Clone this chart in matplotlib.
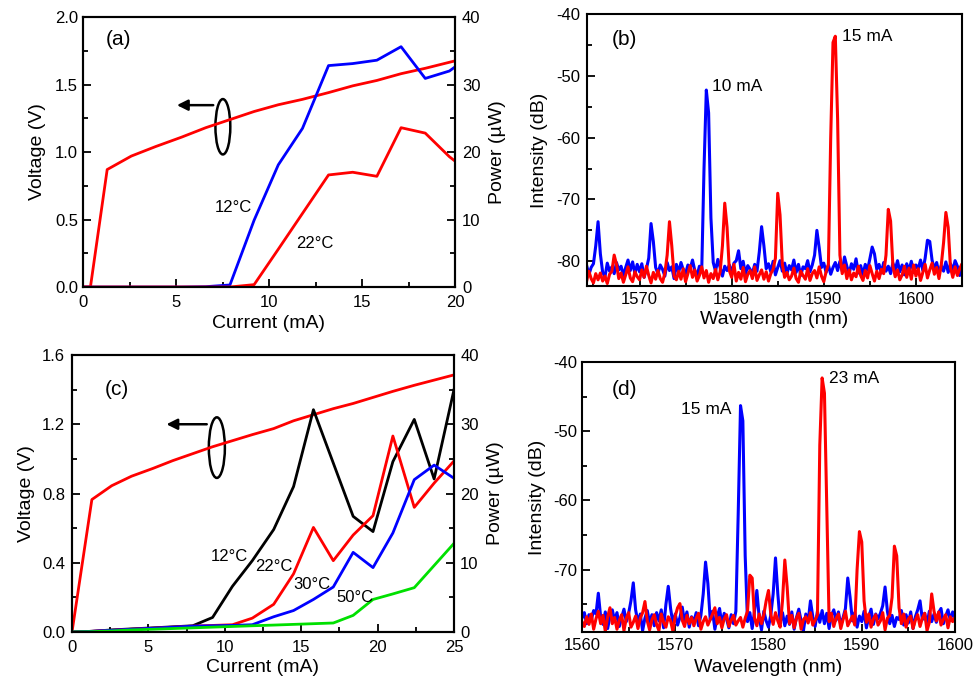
import numpy as np
import matplotlib
matplotlib.use("Agg")
import matplotlib.pyplot as plt
from matplotlib.patches import Ellipse
from matplotlib.ticker import MultipleLocator, FormatStrFormatter

plt.rcParams["font.family"] = ["Liberation Sans", "DejaVu Sans"]
plt.rcParams["axes.unicode_minus"] = False

# ---- panel (a): L-I-V, 2 temperatures
a_v_current = [0, 0.4, 1.3, 2.6, 3.9, 5.3, 6.6, 7.9, 9.2, 10.5, 11.8, 13.2, 14.5, 15.8, 17.1, 18.4, 20.0]
a_voltage = [0, 0, 0.87, 0.97, 1.04, 1.11, 1.18, 1.24, 1.30, 1.35, 1.39, 1.44, 1.49, 1.53, 1.58, 1.62, 1.675]
a_current = [0, 1.3, 2.6, 3.9, 5.3, 6.6, 7.9, 9.2, 10.5, 11.8, 13.2, 14.5, 15.8, 17.1, 18.4, 19.7, 21.0]
a_p_12C = [0, 0, 0, 0, 0, 0.05, 0.3, 9.9, 18.1, 23.5, 32.8, 33.1, 33.6, 35.6, 30.9, 32.0, 34.6]
a_p_22C = [0, 0, 0, 0, 0, 0, 0, 0.35, 5.6, 10.9, 16.6, 17.0, 16.4, 23.6, 22.8, 19.3, 16.5]

# ---- panel (c): L-I-V, 4 temperatures
c_current = [0, 1.3, 2.6, 3.9, 5.3, 6.6, 7.9, 9.2, 10.5, 11.8, 13.2, 14.5, 15.8, 17.1, 18.4, 19.7, 21.0, 22.4, 23.7, 25.0]
c_voltage = [0, 0.765, 0.845, 0.90, 0.945, 0.99, 1.03, 1.07, 1.105, 1.14, 1.175, 1.22, 1.255, 1.29, 1.32, 1.355, 1.39, 1.425, 1.455, 1.485]
c_p_12C = [0, 0.1, 0.3, 0.45, 0.6, 0.75, 0.9, 2.1, 6.6, 10.3, 14.8, 21.0, 32.1, 24.4, 16.7, 14.5, 24.6, 30.7, 22.1, 35.0]
c_p_22C = [0, 0.1, 0.25, 0.4, 0.55, 0.7, 0.85, 0.95, 1.05, 2.0, 4.0, 8.4, 15.1, 10.3, 14.0, 16.8, 28.3, 18.0, 21.5, 24.7]
c_p_30C = [0, 0.1, 0.25, 0.4, 0.55, 0.7, 0.85, 0.9, 0.95, 1.05, 2.2, 3.1, 4.7, 6.5, 11.5, 9.3, 14.3, 22.0, 24.1, 22.2]
c_p_50C = [0, 0.05, 0.15, 0.3, 0.4, 0.5, 0.6, 0.7, 0.8, 0.9, 1.0, 1.1, 1.2, 1.3, 2.4, 4.7, 5.5, 6.4, 9.6, 12.8]

# ---- panel (b): spectra, 1564.0 nm onward in 0.25 nm steps (one row = 2 nm)
b_start, b_step = 1564.0, 0.25
b_10mA = [
    -81.5, -80.6, -82.2, -81.0, -80.4, -77.5, -73.6, -78.8,
    -81.8, -82.5, -80.3, -81.6, -80.9, -82.0, -80.2, -81.4,
    -80.8, -82.3, -81.0, -79.8, -81.5, -80.1, -82.0, -80.5,
    -81.7, -80.4, -82.6, -81.2, -79.5, -73.9, -76.8, -81.0,
    -82.0, -80.6, -81.3, -82.4, -80.2, -81.5, -80.9, -82.8,
    -80.5, -81.8, -80.2, -81.4, -82.0, -80.6, -81.2, -79.8,
    -81.5, -82.3, -80.8, -81.6, -65.0, -52.3, -56.0, -73.0,
    -80.2, -81.6, -79.7, -81.0, -82.4, -80.8, -81.5, -80.6,
    -81.9, -80.3, -79.9, -78.3, -81.2, -80.0, -82.1, -80.7,
    -81.3, -82.0, -80.5, -81.6, -78.5, -74.4, -77.5, -81.2,
    -80.4, -81.7, -80.0, -82.2, -81.0, -79.9, -81.6, -80.3,
    -82.0, -80.7, -81.4, -79.8, -81.8, -80.5, -82.3, -80.9,
    -81.2, -79.9, -81.7, -80.6, -79.0, -75.0, -77.8, -81.0,
    -80.3, -81.8, -80.6, -82.1, -81.0, -80.2, -81.5, -80.0,
    -81.6, -79.3, -80.8, -82.0, -80.4, -81.3, -79.6, -81.9,
    -80.7, -82.2, -80.5, -81.4, -79.6, -77.7, -78.8, -81.3,
    -80.5, -81.9, -80.2, -81.6, -80.8, -82.0, -80.3, -81.4,
    -79.9, -81.7, -80.6, -82.2, -80.4, -81.5, -80.0, -81.8,
    -80.6, -81.2, -79.8, -81.5, -79.5, -76.6, -76.8, -79.8,
    -81.3, -80.2, -82.0, -80.7, -81.6, -80.1, -81.8, -80.4,
    -81.5, -79.9, -80.8, -82.3, -81.0, -80.5, -81.9, -80.6,
]
b_15mA = [
    -82.5, -83.3, -81.6, -82.8, -83.5, -82.0, -83.0, -81.9,
    -83.2, -82.4, -83.6, -82.1, -81.6, -79.0, -80.5, -82.8,
    -81.9, -83.4, -82.2, -80.9, -82.7, -83.3, -81.7, -82.5,
    -83.0, -81.4, -82.6, -80.8, -82.3, -83.5, -81.8, -82.9,
    -81.5, -82.8, -83.4, -81.9, -79.0, -73.6, -77.5, -82.4,
    -83.0, -81.6, -82.9, -81.2, -83.3, -82.0, -80.7, -82.6,
    -81.4, -83.2, -82.3, -80.9, -82.7, -81.5, -83.4, -82.0,
    -82.8, -81.3, -83.0, -81.7, -77.5, -70.6, -74.5, -81.5,
    -82.6, -80.5, -83.2, -81.8, -82.9, -81.0, -83.3, -82.1,
    -81.5, -82.8, -80.9, -83.1, -82.2, -81.4, -82.9, -81.7,
    -83.2, -82.0, -81.3, -79.5, -69.0, -72.5, -80.5, -82.6,
    -81.8, -83.0, -82.4, -81.1, -82.8, -83.4, -81.6, -82.3,
    -82.9, -81.2, -83.1, -82.0, -81.5, -82.7, -80.9, -82.4,
    -83.3, -81.7, -80.5, -60.0, -44.6, -43.6, -57.0, -79.0,
    -82.0, -80.6, -82.8, -81.4, -83.0, -81.9, -82.5, -80.8,
    -82.3, -83.1, -81.5, -82.7, -80.7, -82.0, -83.2, -81.6,
    -82.8, -81.3, -82.0, -79.0, -71.6, -73.5, -80.8, -82.5,
    -81.4, -83.0, -82.2, -80.8, -82.6, -81.1, -82.9, -80.6,
    -82.4, -81.2, -83.1, -81.8, -80.5, -82.7, -81.4, -80.3,
    -82.1, -81.0, -82.8, -80.6, -77.0, -72.1, -74.5, -81.0,
    -82.6, -80.9, -82.3, -81.2, -80.4, -82.0, -81.5, -80.8,
]

# ---- panel (d): spectra, 1560.0 nm onward in 0.25 nm steps
d_start, d_step = 1560.0, 0.25
d_15mA = [
    -77.0, -76.2, -77.8, -76.5, -77.2, -75.9, -76.4, -73.4,
    -76.8, -77.9, -76.1, -78.5, -76.7, -75.8, -77.4, -76.2,
    -78.2, -76.9, -75.7, -77.5, -76.3, -74.5, -71.9, -75.8,
    -77.6, -76.4, -78.8, -77.0, -75.9, -77.7, -76.5, -78.1,
    -76.2, -77.4, -75.8, -78.4, -75.0, -72.4, -75.6, -77.8,
    -76.4, -78.0, -76.9, -75.4, -77.6, -76.1, -78.3, -76.8,
    -77.5, -76.2, -78.1, -76.6, -73.5, -68.9, -72.0, -77.2,
    -76.0, -78.6, -76.8, -75.6, -77.9, -76.3, -77.1, -78.4,
    -76.5, -77.8, -76.0, -62.0, -46.3, -48.5, -68.0, -77.5,
    -76.2, -78.5, -76.0, -73.0, -76.9, -78.7, -76.0, -77.4,
    -78.3, -76.5, -73.5, -68.3, -73.5, -77.6, -76.2, -78.1,
    -76.7, -77.9, -76.1, -78.6, -76.9, -75.7, -77.4, -78.8,
    -76.4, -77.5, -74.5, -76.8, -78.2, -76.0, -77.6, -75.9,
    -77.8, -76.3, -78.5, -76.6, -75.8, -77.3, -76.1, -78.0,
    -76.9, -75.6, -71.2, -74.0, -77.4, -76.2, -78.3, -76.7,
    -77.5, -76.0, -78.4, -76.8, -75.7, -77.9, -76.4, -77.1,
    -76.3, -75.2, -72.5, -76.0, -77.8, -76.6, -78.2, -76.9,
    -77.2, -75.9, -78.0, -76.5, -77.7, -76.1, -78.5, -76.8,
    -75.8, -74.5, -77.2, -76.3, -77.9, -76.0, -77.5, -76.4,
    -77.6, -76.2, -75.6, -77.8, -76.7, -75.8, -77.3, -76.1,
    -77.0,
]
d_23mA = [
    -77.5, -78.2, -76.8, -77.9, -76.4, -78.6, -77.1, -76.0,
    -77.8, -76.6, -78.9, -76.8, -75.5, -77.8, -76.9, -78.6,
    -77.3, -76.5, -78.8, -77.0, -76.2, -78.3, -77.6, -76.7,
    -78.5, -77.0, -76.2, -74.6, -77.4, -78.7, -77.2, -76.5,
    -77.9, -78.8, -76.4, -77.6, -78.3, -76.8, -77.4, -78.9,
    -76.7, -75.5, -74.9, -77.3, -78.2, -76.6, -77.8, -76.9,
    -78.1, -77.0, -76.3, -78.6, -77.5, -76.8, -78.0, -77.2,
    -76.4, -75.5, -77.8, -76.9, -78.4, -77.1, -76.5, -78.2,
    -77.3, -76.6, -78.0, -77.4, -76.9, -78.3, -77.0, -76.0,
    -70.8, -71.2, -77.0, -78.1, -76.4, -77.8, -76.5, -74.5,
    -73.0, -76.5, -77.9, -76.2, -77.4, -78.3, -74.5, -68.6,
    -72.5, -77.8, -76.6, -78.4, -77.0, -76.3, -78.6, -77.2,
    -76.8, -77.7, -76.2, -78.0, -77.3, -76.5, -52.0, -42.3,
    -44.5, -61.0, -77.5, -76.3, -78.2, -77.0, -76.4, -78.5,
    -77.2, -76.0, -78.1, -77.4, -76.7, -78.0, -70.0, -64.5,
    -66.0, -74.5, -77.6, -76.4, -78.3, -77.1, -76.5, -78.0,
    -77.4, -76.2, -78.7, -77.0, -76.6, -74.0, -66.6, -68.0,
    -75.5, -77.8, -76.4, -78.3, -77.1, -76.7, -78.5, -77.3,
    -76.5, -78.2, -77.0, -76.3, -78.8, -77.6, -73.5, -76.0,
    -77.4, -76.1, -78.0, -77.2, -76.5, -78.4, -76.8, -77.5,
    -76.9,
]

BLUE = "#0000ff"
RED = "#ff0000"
GREEN = "#00e000"
LW = 2.0
LW_SPEC = 2.2

W, H = 975, 680
fig = plt.figure(figsize=(W / 100, H / 100), dpi=100)


def px_axes(left, right, top, bottom):
    return fig.add_axes([left / W, 1 - bottom / H, (right - left) / W, (bottom - top) / H])


def style(ax, right=False, xpad=6, ypad=4):
    for s in ax.spines.values():
        s.set_linewidth(1.5)
    ax.tick_params(which="both", direction="in", labelsize=12, width=1.3,
                   top=False, right=right, left=not right, labelleft=not right,
                   labelright=right)
    ax.tick_params(axis="x", pad=xpad)
    ax.tick_params(axis="y", pad=ypad)
    ax.tick_params(which="major", length=6)
    ax.tick_params(which="minor", length=3.5)


def spectrum_x(start, step, vals):
    return start + step * np.arange(len(vals))


# ---------------- (a)
ax_a = px_axes(83, 455, 17, 287)
ax_a.plot(a_v_current, a_voltage, color=RED, lw=LW)
ax_a.set_xlim(0, 20)
ax_a.set_ylim(0, 2.0)
ax_a.xaxis.set_major_locator(MultipleLocator(5))
ax_a.xaxis.set_minor_locator(MultipleLocator(2.5))
ax_a.yaxis.set_major_locator(MultipleLocator(0.5))
ax_a.yaxis.set_minor_locator(MultipleLocator(0.25))
ax_a.yaxis.set_major_formatter(FormatStrFormatter("%.1f"))
ax_a.set_xlabel("Current (mA)", fontsize=14, labelpad=3)
ax_a.set_ylabel("Voltage (V)", fontsize=14, labelpad=6.5)
style(ax_a, ypad=3.5)
ax_a.add_patch(Ellipse((7.52, 1.187), 0.8, 0.41, fill=False, lw=1.8, color="black"))
ax_a.annotate("", xy=(4.9, 1.347), xytext=(7.15, 1.347),
              arrowprops=dict(arrowstyle="-|>", color="black", lw=1.8, mutation_scale=16))
ax_a.text(0.06, 0.915, "(a)", transform=ax_a.transAxes, fontsize=15, va="center")

tw_a = ax_a.twinx()
tw_a.plot(a_current, a_p_12C, color=BLUE, lw=LW)
tw_a.plot(a_current, a_p_22C, color=RED, lw=LW)
tw_a.set_xlim(0, 20)
tw_a.set_ylim(0, 40)
tw_a.yaxis.set_major_locator(MultipleLocator(10))
tw_a.yaxis.set_minor_locator(MultipleLocator(5))
tw_a.set_ylabel("Power (µW)", fontsize=14, labelpad=6)
style(tw_a, right=True, ypad=5)
tw_a.text(8.06, 11.85, "12°C", fontsize=12, ha="center", va="center")
tw_a.text(12.47, 6.5, "22°C", fontsize=12, ha="center", va="center")

# ---------------- (b)
ax_b = px_axes(587, 962, 14, 286)
ax_b.plot(spectrum_x(b_start, b_step, b_10mA), b_10mA, color=BLUE, lw=LW_SPEC)
ax_b.plot(spectrum_x(b_start, b_step, b_15mA), b_15mA, color=RED, lw=LW_SPEC)
ax_b.set_xlim(1564.3, 1605)
ax_b.set_ylim(-84, -40)
ax_b.xaxis.set_major_locator(MultipleLocator(10))
ax_b.xaxis.set_minor_locator(MultipleLocator(5))
ax_b.yaxis.set_major_locator(MultipleLocator(10))
ax_b.yaxis.set_minor_locator(MultipleLocator(5))
ax_b.set_xlabel("Wavelength (nm)", fontsize=14, labelpad=3)
ax_b.set_ylabel("Intensity (dB)", fontsize=14, labelpad=6)
style(ax_b, xpad=4.5, ypad=5)
ax_b.text(0.067, 0.908, "(b)", transform=ax_b.transAxes, fontsize=15, va="center")
ax_b.text(1577.9, -51.8, "10 mA", fontsize=12.5, ha="left", va="center")
ax_b.text(1592.0, -43.7, "15 mA", fontsize=12.5, ha="left", va="center")

# ---------------- (c)
ax_c = px_axes(72, 454, 355, 632)
ax_c.plot(c_current, c_voltage, color=RED, lw=LW)
ax_c.set_xlim(0, 25)
ax_c.set_ylim(0, 1.6)
ax_c.xaxis.set_major_locator(MultipleLocator(5))
ax_c.xaxis.set_minor_locator(MultipleLocator(2.5))
ax_c.yaxis.set_major_locator(MultipleLocator(0.4))
ax_c.yaxis.set_minor_locator(MultipleLocator(0.2))
ax_c.yaxis.set_major_formatter(FormatStrFormatter("%.1f"))
ax_c.set_xlabel("Current (mA)", fontsize=14, labelpad=3)
ax_c.set_ylabel("Voltage (V)", fontsize=14, labelpad=5)
style(ax_c, ypad=5)
ax_c.add_patch(Ellipse((9.48, 1.065), 1.05, 0.35, fill=False, lw=1.8, color="black"))
ax_c.annotate("", xy=(6.0, 1.2), xytext=(9.0, 1.2),
              arrowprops=dict(arrowstyle="-|>", color="black", lw=1.8, mutation_scale=16))
ax_c.text(0.086, 0.874, "(c)", transform=ax_c.transAxes, fontsize=15, va="center")

tw_c = ax_c.twinx()
tw_c.plot(c_current, c_p_12C, color="black", lw=LW)
tw_c.plot(c_current, c_p_22C, color=RED, lw=LW)
tw_c.plot(c_current, c_p_30C, color=BLUE, lw=LW)
tw_c.plot(c_current, c_p_50C, color=GREEN, lw=LW)
tw_c.set_xlim(0, 25)
tw_c.set_ylim(0, 40)
tw_c.yaxis.set_major_locator(MultipleLocator(10))
tw_c.yaxis.set_minor_locator(MultipleLocator(5))
tw_c.set_ylabel("Power (µW)", fontsize=14, labelpad=5.5)
style(tw_c, right=True, ypad=4.5)
tw_c.text(10.27, 10.97, "12°C", fontsize=12, ha="center", va="center")
tw_c.text(13.22, 9.39, "22°C", fontsize=12, ha="center", va="center")
tw_c.text(15.71, 6.79, "30°C", fontsize=12, ha="center", va="center")
tw_c.text(18.52, 4.91, "50°C", fontsize=12, ha="center", va="center")

# ---------------- (d)
ax_d = px_axes(582, 955, 362, 632)
ax_d.plot(spectrum_x(d_start, d_step, d_15mA), d_15mA, color=BLUE, lw=LW_SPEC)
ax_d.plot(spectrum_x(d_start, d_step, d_23mA), d_23mA, color=RED, lw=LW_SPEC)
ax_d.set_xlim(1560, 1600)
ax_d.set_ylim(-79, -40)
ax_d.xaxis.set_major_locator(MultipleLocator(10))
ax_d.xaxis.set_minor_locator(MultipleLocator(5))
ax_d.yaxis.set_major_locator(MultipleLocator(10))
ax_d.yaxis.set_minor_locator(MultipleLocator(5))
ax_d.set_xlabel("Wavelength (nm)", fontsize=14, labelpad=4)
ax_d.set_ylabel("Intensity (dB)", fontsize=14, labelpad=5)
style(ax_d, xpad=4.5, ypad=3.5)
ax_d.text(0.08, 0.9, "(d)", transform=ax_d.transAxes, fontsize=15, va="center")
ax_d.text(1576.0, -46.8, "15 mA", fontsize=12.5, ha="right", va="center")
ax_d.text(1586.5, -42.45, "23 mA", fontsize=12.5, ha="left", va="center")

fig.savefig("out.png", dpi=100)
